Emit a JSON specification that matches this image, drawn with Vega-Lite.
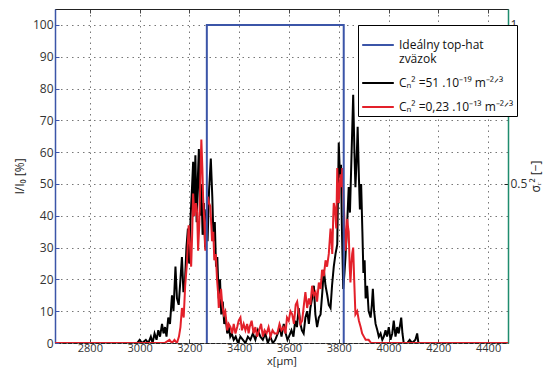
{
  "$schema": "https://vega.github.io/schema/vega-lite/v6.json",
  "width": 453,
  "height": 334,
  "autosize": {"type": "none"},
  "padding": {"left": 55, "top": 9, "right": 44, "bottom": 29},
  "background": "#ffffff",
  "config": {
    "view": {"stroke": "#222222", "strokeWidth": 1},
    "axis": {
      "labelFont": "Open Sans", "labelFontSize": 12, "labelColor": "#333333",
      "titleFont": "Open Sans", "titleFontSize": 12, "titleFontWeight": "normal", "titleColor": "#222222"
    }
  },
  "datasets": {
    "k": [
      {"x":2660,"y":0},{"x":2990,"y":0},{"x":3000,"y":1},{"x":3010,"y":0},{"x":3025,"y":1},{"x":3035,"y":0},{"x":3045,"y":2},{"x":3052,"y":0},{"x":3060,"y":3},{"x":3068,"y":1},{"x":3075,"y":4},{"x":3082,"y":2},{"x":3090,"y":6},{"x":3096,"y":3},{"x":3102,"y":5},{"x":3108,"y":2},{"x":3115,"y":8},{"x":3122,"y":6},{"x":3130,"y":15},{"x":3136,"y":10},{"x":3144,"y":24},{"x":3150,"y":14},{"x":3157,"y":12},{"x":3164,"y":20},{"x":3170,"y":27},{"x":3176,"y":16},{"x":3182,"y":19},{"x":3188,"y":30},{"x":3194,"y":36},{"x":3199,"y":25},{"x":3205,"y":40},{"x":3210,"y":48},{"x":3215,"y":57},{"x":3219,"y":42},{"x":3224,"y":59},{"x":3229,"y":38},{"x":3234,"y":52},{"x":3238,"y":61},{"x":3243,"y":40},{"x":3248,"y":50},{"x":3253,"y":34},{"x":3258,"y":44},{"x":3263,"y":30},{"x":3268,"y":42},{"x":3273,"y":32},{"x":3279,"y":48},{"x":3286,"y":58},{"x":3292,"y":46},{"x":3297,"y":32},{"x":3302,"y":38},{"x":3307,"y":24},{"x":3312,"y":27},{"x":3318,"y":14},{"x":3323,"y":20},{"x":3328,"y":9},{"x":3334,"y":13},{"x":3340,"y":6},{"x":3346,"y":8},{"x":3352,"y":3},{"x":3358,"y":5},{"x":3364,"y":2},{"x":3370,"y":3},{"x":3378,"y":1},{"x":3386,"y":2},{"x":3395,"y":0},{"x":3405,"y":2},{"x":3415,"y":1},{"x":3425,"y":0},{"x":3435,"y":2},{"x":3445,"y":1},{"x":3455,"y":3},{"x":3465,"y":1},{"x":3475,"y":4},{"x":3485,"y":2},{"x":3495,"y":1},{"x":3505,"y":3},{"x":3515,"y":0},{"x":3525,"y":2},{"x":3535,"y":0},{"x":3545,"y":1},{"x":3555,"y":3},{"x":3563,"y":5},{"x":3570,"y":2},{"x":3579,"y":6},{"x":3587,"y":3},{"x":3594,"y":1},{"x":3600,"y":2},{"x":3610,"y":4},{"x":3618,"y":2},{"x":3625,"y":7},{"x":3632,"y":5},{"x":3639,"y":11},{"x":3646,"y":6},{"x":3652,"y":4},{"x":3659,"y":3},{"x":3666,"y":8},{"x":3673,"y":10},{"x":3680,"y":6},{"x":3686,"y":11},{"x":3693,"y":14},{"x":3700,"y":18},{"x":3706,"y":9},{"x":3713,"y":5},{"x":3720,"y":8},{"x":3727,"y":9},{"x":3734,"y":16},{"x":3740,"y":23},{"x":3747,"y":18},{"x":3754,"y":15},{"x":3760,"y":12},{"x":3767,"y":11},{"x":3773,"y":18},{"x":3780,"y":24},{"x":3787,"y":28},{"x":3794,"y":31},{"x":3800,"y":63},{"x":3805,"y":52},{"x":3809,"y":56},{"x":3813,"y":35},{"x":3818,"y":17},{"x":3823,"y":22},{"x":3827,"y":27},{"x":3833,"y":36},{"x":3840,"y":49},{"x":3845,"y":41},{"x":3851,"y":58},{"x":3858,"y":78},{"x":3863,"y":60},{"x":3867,"y":49},{"x":3872,"y":58},{"x":3876,"y":68},{"x":3881,"y":52},{"x":3885,"y":42},{"x":3890,"y":50},{"x":3895,"y":35},{"x":3899,"y":22},{"x":3904,"y":26},{"x":3908,"y":14},{"x":3914,"y":18},{"x":3920,"y":10},{"x":3928,"y":8},{"x":3933,"y":12},{"x":3937,"y":17},{"x":3942,"y":10},{"x":3948,"y":6},{"x":3955,"y":4},{"x":3961,"y":2},{"x":3968,"y":3},{"x":3975,"y":1},{"x":3981,"y":2},{"x":3988,"y":4},{"x":3994,"y":2},{"x":4001,"y":5},{"x":4008,"y":1},{"x":4015,"y":3},{"x":4021,"y":7},{"x":4028,"y":2},{"x":4035,"y":5},{"x":4041,"y":3},{"x":4051,"y":8},{"x":4056,"y":3},{"x":4061,"y":0},{"x":4075,"y":0},{"x":4085,"y":1},{"x":4095,"y":0},{"x":4108,"y":1},{"x":4115,"y":3},{"x":4120,"y":0},{"x":4480,"y":0}
    ],
    "r": [
      {"x":2660,"y":0},{"x":3100,"y":0},{"x":3120,"y":1},{"x":3130,"y":0},{"x":3140,"y":1},{"x":3150,"y":0},{"x":3158,"y":2},{"x":3164,"y":5},{"x":3170,"y":11},{"x":3177,"y":8},{"x":3183,"y":18},{"x":3190,"y":25},{"x":3197,"y":37},{"x":3203,"y":30},{"x":3207,"y":24},{"x":3211,"y":34},{"x":3215,"y":47},{"x":3220,"y":40},{"x":3226,"y":44},{"x":3231,"y":41},{"x":3235,"y":29},{"x":3240,"y":38},{"x":3244,"y":52},{"x":3248,"y":64},{"x":3252,"y":55},{"x":3255,"y":46},{"x":3260,"y":38},{"x":3264,"y":29},{"x":3269,"y":40},{"x":3274,"y":46},{"x":3279,"y":44},{"x":3284,"y":43},{"x":3288,"y":37},{"x":3291,"y":32},{"x":3296,"y":35},{"x":3300,"y":26},{"x":3306,"y":28},{"x":3311,"y":20},{"x":3315,"y":16},{"x":3318,"y":11},{"x":3323,"y":15},{"x":3327,"y":17},{"x":3332,"y":12},{"x":3338,"y":9},{"x":3344,"y":10},{"x":3352,"y":4},{"x":3358,"y":6},{"x":3365,"y":5},{"x":3372,"y":3},{"x":3378,"y":6},{"x":3385,"y":3},{"x":3392,"y":5},{"x":3398,"y":7},{"x":3405,"y":8},{"x":3411,"y":4},{"x":3418,"y":6},{"x":3425,"y":4},{"x":3432,"y":6},{"x":3438,"y":3},{"x":3442,"y":5},{"x":3450,"y":7},{"x":3458,"y":3},{"x":3465,"y":5},{"x":3472,"y":2},{"x":3480,"y":4},{"x":3488,"y":6},{"x":3495,"y":2},{"x":3502,"y":4},{"x":3510,"y":3},{"x":3518,"y":5},{"x":3526,"y":2},{"x":3534,"y":4},{"x":3542,"y":3},{"x":3553,"y":3},{"x":3562,"y":6},{"x":3570,"y":4},{"x":3579,"y":5},{"x":3586,"y":3},{"x":3592,"y":8},{"x":3599,"y":7},{"x":3606,"y":10},{"x":3613,"y":9},{"x":3620,"y":6},{"x":3627,"y":12},{"x":3633,"y":13},{"x":3640,"y":9},{"x":3646,"y":6},{"x":3653,"y":7},{"x":3660,"y":12},{"x":3666,"y":16},{"x":3673,"y":11},{"x":3680,"y":14},{"x":3686,"y":12},{"x":3693,"y":18},{"x":3700,"y":15},{"x":3707,"y":16},{"x":3713,"y":13},{"x":3720,"y":19},{"x":3727,"y":17},{"x":3733,"y":23},{"x":3740,"y":21},{"x":3747,"y":26},{"x":3753,"y":24},{"x":3760,"y":28},{"x":3767,"y":36},{"x":3771,"y":32},{"x":3774,"y":28},{"x":3778,"y":40},{"x":3780,"y":44},{"x":3785,"y":42},{"x":3790,"y":36},{"x":3794,"y":55},{"x":3797,"y":48},{"x":3800,"y":44},{"x":3804,"y":50},{"x":3807,"y":53},{"x":3811,"y":49},{"x":3814,"y":55},{"x":3817,"y":50},{"x":3820,"y":44},{"x":3824,"y":36},{"x":3827,"y":29},{"x":3831,"y":33},{"x":3834,"y":39},{"x":3838,"y":36},{"x":3840,"y":35},{"x":3844,"y":24},{"x":3847,"y":19},{"x":3851,"y":25},{"x":3854,"y":28},{"x":3858,"y":30},{"x":3862,"y":20},{"x":3867,"y":9},{"x":3874,"y":10},{"x":3881,"y":7},{"x":3888,"y":5},{"x":3894,"y":3},{"x":3901,"y":2},{"x":3908,"y":1},{"x":3920,"y":1},{"x":3930,"y":0},{"x":4480,"y":0}
    ],
    "b": [
      {"x":3270,"y":0},{"x":3270,"y":100},{"x":3820,"y":100},{"x":3820,"y":0}
    ],
    "ax": [
      {"x":2660,"v":0},{"x":4480,"v":1.05}
    ]
  },
  "layer": [
    {
      "data": {"name": "k"},
      "mark": {"type": "line", "strokeWidth": 2, "clip": true},
      "encoding": {
        "x": {"field": "x", "type": "quantitative",
          "scale": {"domain": [2660, 4480], "nice": false, "zero": false},
          "axis": {"orient": "bottom", "values": [2800,3000,3200,3400,3600,3800,4000,4200,4400], "format": "d",
            "grid": true, "gridDash": [1.5, 4], "gridColor": "#777777", "gridWidth": 1,
            "domain": false, "tickSize": -4, "tickColor": "#444444", "labelPadding": 3, "labelFontSize": 11,
            "title": "x[μm]", "titleFontSize": 11, "titlePadding": 2}},
        "y": {"field": "y", "type": "quantitative",
          "scale": {"domain": [0, 105], "nice": false},
          "axis": {"orient": "left", "values": [0,10,20,30,40,50,60,70,80,90,100],
            "grid": true, "gridDash": [1.5, 4], "gridColor": "#777777", "gridWidth": 1,
            "domainColor": "#3b55a8", "domainWidth": 1.5, "tickColor": "#3b55a8", "tickSize": -4,
            "labelPadding": 6, "title": "I/I₀ [%]", "titlePadding": 6}},
        "color": {"datum": "k", "type": "nominal",
          "scale": {"domain": ["top", "k", "r"], "range": ["#3b55a8", "#000000", "#e3202a"]},
          "legend": {
            "orient": "none", "legendX": 303, "legendY": 16, "title": null,
            "symbolType": "stroke", "symbolSize": 1000, "symbolStrokeWidth": 2,
            "strokeColor": "#000000", "fillColor": "#ffffff", "padding": 3,
            "labelFont": "Open Sans", "labelFontSize": 12, "labelColor": "#111111",
            "labelOffset": 4, "labelLimit": 220, "rowPadding": 1,
            "labelExpr": "datum.value == 'top' ? ['Ideálny top-hat', 'zväzok'] : datum.value == 'k' ? 'Cₙ² =51 .10⁻¹⁹ m⁻²ᐟ³' : 'Cₙ² =0,23 .10⁻¹³ m⁻²ᐟ³'"
          }}
      }
    },
    {
      "data": {"name": "r"},
      "mark": {"type": "line", "strokeWidth": 2, "clip": true},
      "encoding": {
        "x": {"field": "x", "type": "quantitative", "axis": null},
        "y": {"field": "y", "type": "quantitative", "scale": {"domain": [0, 105], "nice": false}, "axis": null},
        "color": {"datum": "r", "type": "nominal"}
      }
    },
    {
      "data": {"name": "b"},
      "mark": {"type": "line", "strokeWidth": 2, "clip": true},
      "encoding": {
        "x": {"field": "x", "type": "quantitative", "axis": null},
        "y": {"field": "y", "type": "quantitative", "scale": {"domain": [0, 105], "nice": false}, "axis": null},
        "order": {"value": 0},
        "color": {"datum": "top", "type": "nominal"}
      }
    },
    {
      "data": {"name": "ax"},
      "mark": {"type": "point", "opacity": 0},
      "encoding": {
        "x": {"field": "x", "type": "quantitative",
          "axis": {"orient": "top", "values": [2800,3000,3200,3400,3600,3800,4000,4200,4400],
            "labels": false, "grid": false, "domainColor": "#222222", "tickSize": -4, "tickColor": "#444444", "title": null}},
        "y": {"field": "v", "type": "quantitative",
          "scale": {"domain": [0, 1.05], "nice": false},
          "axis": {"orient": "right", "values": [0.5, 1], "format": "~g", "grid": false,
            "domainColor": "#1f8c6e", "domainWidth": 1.5, "tickColor": "#222222", "tickSize": -4,
            "labelPadding": 6, "title": "σᵣ² [−]", "titleAngle": 270, "titlePadding": 16}}
      }
    }
  ],
  "resolve": {"scale": {"y": "independent"}, "axis": {"x": "independent", "y": "independent"}}
}
